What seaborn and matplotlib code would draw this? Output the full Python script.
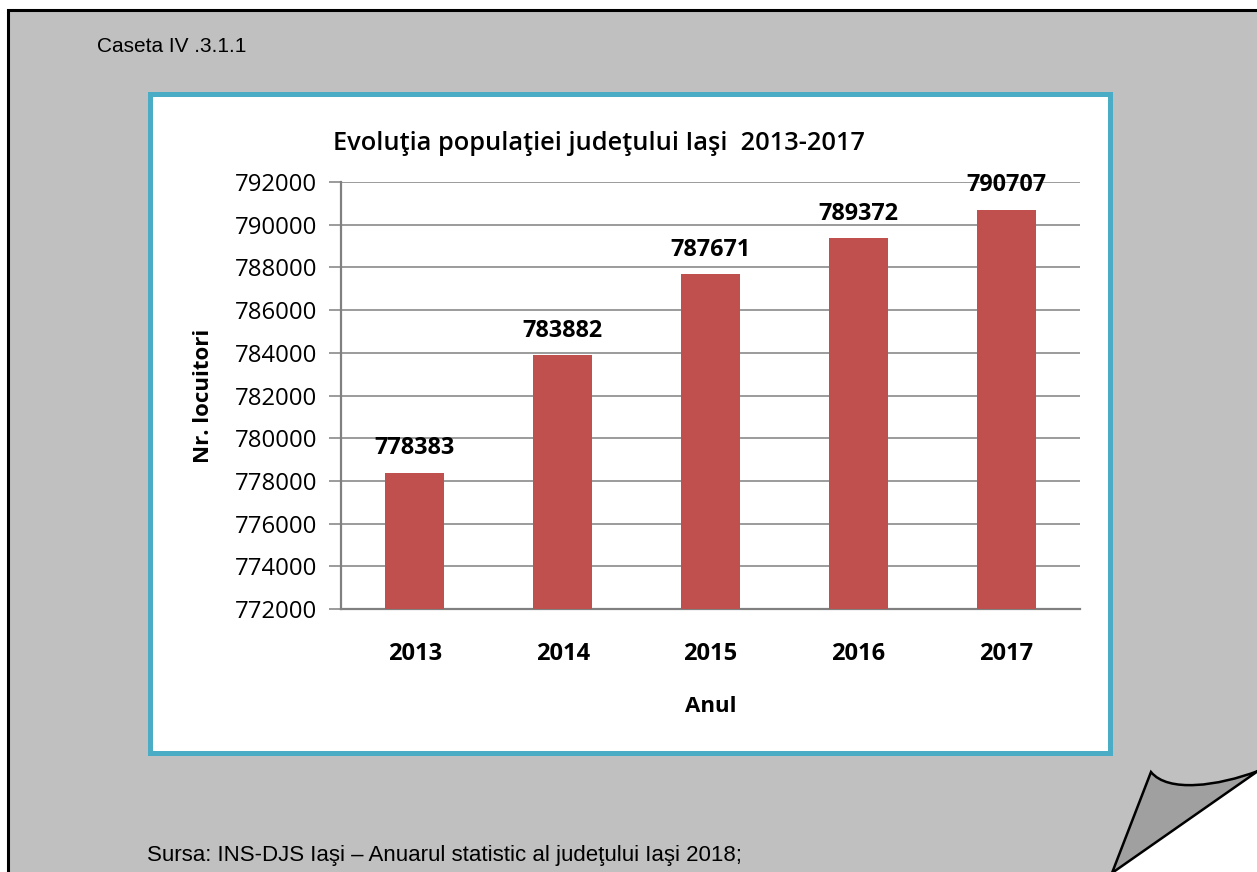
import matplotlib
matplotlib.use("Agg")
import matplotlib.pyplot as plt
import seaborn as sns
import pandas as pd
from matplotlib.patches import Rectangle, Polygon, PathPatch
from matplotlib.path import Path

years = ["2013", "2014", "2015", "2016", "2017"]
population = [778383, 783882, 787671, 789372, 790707]
y_ticks = [772000, 774000, 776000, 778000, 780000, 782000, 784000, 786000, 788000, 790000, 792000]

title = "Evoluţia populaţiei judeţului Iaşi  2013-2017"
box_label = "Caseta IV .3.1.1"
source = "Sursa: INS-DJS Iaşi – Anuarul statistic al judeţului Iaşi 2018;"

sns.set_theme(style="white")
plt.rcParams['font.family'] = ['Open Sans', 'DejaVu Sans']
plt.rcParams['text.color'] = 'black'
plt.rcParams['axes.labelcolor'] = 'black'
plt.rcParams['xtick.color'] = 'black'
plt.rcParams['ytick.color'] = 'black'

W, H = 1257, 872
fig = plt.figure(figsize=(W / 100, H / 100), dpi=100)
fig.patch.set_facecolor("white")

# background drawing axes in pixel coordinates
bg = fig.add_axes([0, 0, 1, 1], zorder=0)
bg.set_xlim(0, W)
bg.set_ylim(H, 0)
bg.axis("off")

# gray page with black border
bg.add_patch(Rectangle((8, 10), W + 20, H + 20, facecolor="#C0C0C0", edgecolor="black", linewidth=2.2))
# page curl: white corner
bg.add_patch(Polygon([(1112, 873), (1258, 771), (1258, 873)], closed=True, facecolor="white", edgecolor="none"))
# curl flap
codes = [Path.MOVETO, Path.LINETO, Path.CURVE4, Path.CURVE4, Path.CURVE4, Path.CLOSEPOLY]
verts = [(1112, 873), (1151, 772), (1168, 793), (1218, 786), (1258, 771), (1112, 873)]
bg.add_patch(PathPatch(Path(verts, codes), facecolor="#A0A0A0", edgecolor="black", linewidth=1.8))

# white chart box with cyan border
bg.add_patch(Rectangle((149.5, 94.5), 960, 658, facecolor="white", edgecolor="#4BACC6", linewidth=3.6))

bg.text(97, 46, box_label, fontsize=15, family=["Liberation Sans", "DejaVu Sans"],
        ha="left", va="center", color="black")
bg.text(147, 855, source, fontsize=16, family=["Liberation Sans", "DejaVu Sans"],
        ha="left", va="center", color="black")
bg.text(599, 143, title, fontsize=18.3, fontweight="semibold", ha="center", va="center", color="black")

# chart axes
left, right, top, bottom = 341, 1080, 182, 609
ax = fig.add_axes([left / W, 1 - bottom / H, (right - left) / W, (bottom - top) / H], zorder=2)
ax.set_facecolor("none")

df = pd.DataFrame({"Anul": years, "Nr. locuitori": population})
sns.barplot(data=df, x="Anul", y="Nr. locuitori", color="#C0504D", width=0.4,
            saturation=1, linewidth=0, ax=ax, zorder=3)

ax.set_ylim(y_ticks[0], y_ticks[-1])
ax.set_xlim(-0.5, len(years) - 0.5)
ax.set_yticks(y_ticks)
ax.set_yticklabels([str(v) for v in y_ticks], fontsize=17.2)
ax.yaxis.grid(True, color="#808080", linewidth=1.1)
ax.set_axisbelow(True)

ax.set_xticks(range(len(years)))
ax.set_xticklabels(years, fontsize=17, fontweight="bold")
ax.set_xticks([i - 0.5 for i in range(len(years) + 1)], minor=True)
ax.tick_params(axis="x", which="major", length=0, pad=23.5)
ax.tick_params(axis="x", which="minor", length=8, width=1.1, color="#808080", direction="out")
ax.tick_params(axis="y", length=9, width=1.1, color="#808080", direction="out", pad=8, left=True)

for s in ["top", "right"]:
    ax.spines[s].set_visible(False)
for s in ["left", "bottom"]:
    ax.spines[s].set_color("#808080")
    ax.spines[s].set_linewidth(1.6)

ax.set_xlabel("Anul", fontsize=16, fontweight="bold", labelpad=21.5)
ax.set_ylabel("Nr. locuitori", fontsize=16, fontweight="bold", labelpad=15)

ax.bar_label(ax.containers[0], labels=[str(v) for v in population], padding=9,
             fontsize=16.8, fontweight="bold", clip_on=False)

fig.savefig("out.png", dpi=100)
